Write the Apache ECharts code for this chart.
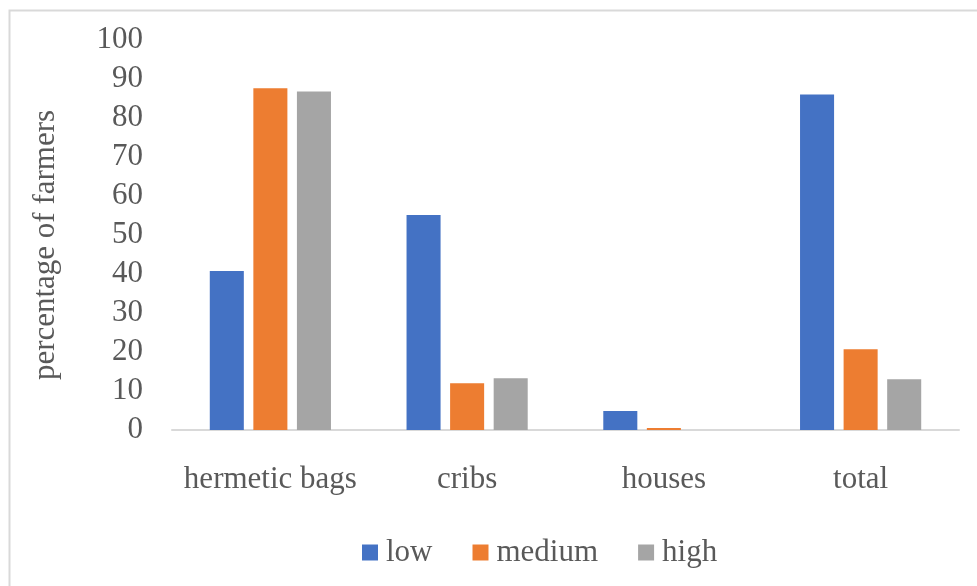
<!DOCTYPE html>
<html>
<head>
<meta charset="utf-8">
<script src="https://cdn.jsdelivr.net/npm/echarts@6/dist/echarts.min.js"></script>
<style>
  html, body { margin: 0; padding: 0; background: #fff; }
  #chart { width: 977px; height: 586px; }
</style>
</head>
<body>
<div id="chart"></div>
<script>
// Storage method shares by farmer level
const categories = ['hermetic bags', 'cribs', 'houses', 'total'];
const lowValues = [40.8, 55.1, 4.9, 86.0];
const mediumValues = [87.6, 12.0, 0.5, 20.7];
const highValues = [86.8, 13.3, 0, 13.0];
const seriesNames = ['low', 'medium', 'high'];
const seriesColors = ['#4472C4', '#ED7D31', '#A5A5A5'];

const fontFamily = '"Liberation Serif", "Times New Roman", serif';
const textColor = '#595959';

const chart = echarts.init(document.getElementById('chart'));

const seriesData = [lowValues, mediumValues, highValues];

chart.setOption({
  animation: false,
  backgroundColor: '#ffffff',
  grid: { left: 172, right: 18, top: 40, bottom: 156 },
  graphic: [
    {
      type: 'rect',
      left: 7, top: 8,
      shape: { width: 1000, height: 1000 },
      style: { fill: 'none', stroke: '#d9d9d9', lineWidth: 2 },
      silent: true
    },
    {
      type: 'text',
      x: 46, y: 245,
      rotation: Math.PI / 2,
      style: {
        text: 'percentage of farmers',
        fill: textColor,
        font: '31px ' + fontFamily,
        textAlign: 'center',
        textVerticalAlign: 'middle'
      },
      silent: true
    }
  ],
  legend: {
    data: seriesNames,
    left: 357,
    top: 532,
    itemWidth: 16,
    itemHeight: 16,
    itemGap: 40,
    icon: 'rect',
    textStyle: { color: textColor, fontFamily: fontFamily, fontSize: 31, padding: [0, 0, 0, 3] }
  },
  xAxis: {
    type: 'category',
    data: categories,
    axisLine: { lineStyle: { color: '#d9d9d9', width: 2 } },
    axisTick: { show: false },
    axisLabel: { interval: 0, color: textColor, fontFamily: fontFamily, fontSize: 31, margin: 34 }
  },
  yAxis: {
    type: 'value',
    min: 0,
    max: 100,
    interval: 10,
    splitLine: { show: false },
    axisLine: { show: false },
    axisTick: { show: false },
    axisLabel: { color: textColor, fontFamily: fontFamily, fontSize: 31, margin: 29, padding: [5, 0, 0, 0] }
  },
  series: seriesNames.map((name, i) => ({
    name: name,
    type: 'bar',
    data: seriesData[i],
    barWidth: '17.3%',
    barGap: '28%',
    itemStyle: { color: seriesColors[i] }
  }))
});
</script>
</body>
</html>
